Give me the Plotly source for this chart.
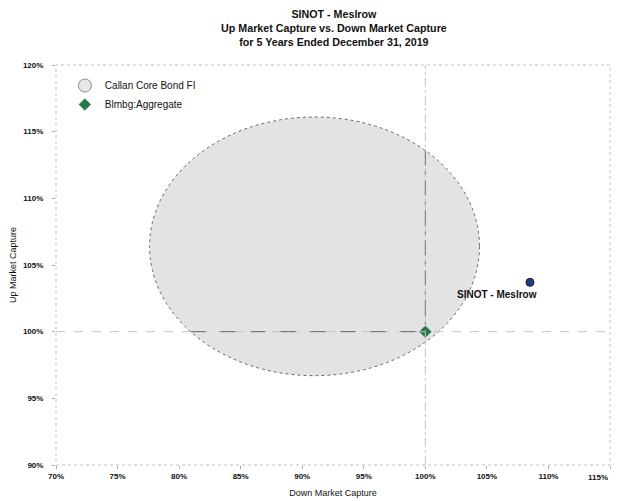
import numpy as np
import plotly.graph_objects as go

# ---- data ----
title_lines = ["SINOT - Meslrow", "Up Market Capture vs. Down Market Capture",
               "for 5 Years Ended December 31, 2019"]
x_ticks = [70, 75, 80, 85, 90, 95, 100, 105, 110, 115]
x_tick_labels = ["70%", "75%", "80%", "85%", "90%", "95%", "100%", "105%", "110%", "115%"]
y_ticks = [90, 95, 100, 105, 110, 115, 120]
y_tick_labels = ["90%", "95%", "100%", "105%", "110%", "115%", "120%"]

group_name = "Callan Core Bond FI"
group_center = [91.0, 106.4]      # down capture, up capture
group_radius = [13.4, 9.7]        # half-width, half-height

bench_name = "Blmbg:Aggregate"
bench_down = [100.0]
bench_up = [100.0]

fund_name = "SINOT - Meslrow"
fund_down = [108.5]
fund_up = [103.7]

ref_level = 100

FONT = "Arial, Liberation Sans, sans-serif"
TICKFONT = dict(family=FONT, size=8, color="#111", weight="bold")

fig = go.Figure()

cx, cy = group_center
rx, ry = group_radius

# group ellipse
fig.add_shape(type="circle", xref="x", yref="y",
              x0=cx - rx, x1=cx + rx, y0=cy - ry, y1=cy + ry,
              fillcolor="#e3e3e3", line=dict(color="#666666", width=1, dash="dot"),
              layer="below")

# light reference lines at 100% across the whole plot
fig.add_shape(type="line", xref="paper", yref="y", x0=0, x1=1, y0=ref_level, y1=ref_level,
              line=dict(color="#c4c4c4", width=1, dash="dash"))
fig.add_shape(type="line", xref="x", yref="paper", x0=ref_level, x1=ref_level, y0=0, y1=1,
              line=dict(color="#c4c4c4", width=1, dash="dashdot"))

# darker parts of the reference lines inside the group ellipse
x_left = cx - rx * np.sqrt(max(0.0, 1 - ((ref_level - cy) / ry) ** 2))
y_top = cy + ry * np.sqrt(max(0.0, 1 - ((ref_level - cx) / rx) ** 2))
fig.add_shape(type="line", xref="x", yref="y", x0=x_left, x1=bench_down[0],
              y0=ref_level, y1=ref_level,
              line=dict(color="#666666", width=1, dash="longdash"))
fig.add_shape(type="line", xref="x", yref="y", x0=ref_level, x1=ref_level,
              y0=y_top, y1=bench_up[0],
              line=dict(color="#777777", width=1, dash="longdashdot"))

# plot border, dotted
fig.add_shape(type="rect", xref="paper", yref="paper", x0=0, x1=1, y0=0, y1=1,
              line=dict(color="#c0c0c0", width=1, dash="dot"))

# legend entry for ellipse
fig.add_trace(go.Scatter(x=[None], y=[None], mode="markers", name=group_name,
                         marker=dict(symbol="circle", size=13, color="#e8e8e8",
                                     line=dict(color="#8a8a8a", width=1))))

fig.add_trace(go.Scatter(x=bench_down, y=bench_up, mode="markers", name=bench_name,
                         marker=dict(symbol="diamond", size=9, color="#237a4b",
                                     line=dict(color="#1d5e3a", width=0.5))))

fig.add_trace(go.Scatter(x=fund_down, y=fund_up, mode="markers", name=fund_name,
                         showlegend=False,
                         marker=dict(symbol="circle", size=8, color="#1f3f7a",
                                     line=dict(color="#0d1a33", width=1))))

fig.add_annotation(x=fund_down[0], y=fund_up[0], text="<b>" + fund_name + "</b>",
                   showarrow=False, xanchor="center", yanchor="top",
                   xshift=-33, yshift=-5, font=dict(family=FONT, size=10, color="#111"))

# last x tick label is drawn right-aligned at its tick so it stays inside the page
x_text = list(x_tick_labels[:-1]) + [""]
fig.add_annotation(x=x_ticks[-1], xref="x", y=0, yref="paper",
                   text=x_tick_labels[-1], showarrow=False,
                   xanchor="right", yanchor="top", yshift=-6,
                   font=TICKFONT)

fig.update_layout(
    width=622, height=501,
    margin=dict(l=48, r=20, t=57, b=44),
    paper_bgcolor="white", plot_bgcolor="white",
    title=dict(text="<br>".join("<b>" + t + "</b>" for t in title_lines),
               x=0.524, xanchor="center", y=0.98, yanchor="top",
               font=dict(family=FONT, size=10.7, color="#111")),
    font=dict(family=FONT, size=9, color="#111"),
    legend=dict(x=0.016, y=0.985, xanchor="left", yanchor="top",
                bgcolor="rgba(0,0,0,0)", font=dict(family=FONT, size=10, color="#111"),
                itemsizing="trace", tracegroupgap=0),
    showlegend=True,
)

fig.update_xaxes(range=[70, 115], tickvals=x_ticks, ticktext=x_text,
                 showgrid=False, zeroline=False, showline=False, automargin=False,
                 ticks="outside", ticklen=3, tickcolor="#aaaaaa",
                 tickfont=TICKFONT,
                 title=dict(text="Down Market Capture", standoff=10,
                            font=dict(family=FONT, size=9, color="#111")))
fig.update_yaxes(range=[90, 120], tickvals=y_ticks, ticktext=y_tick_labels,
                 showgrid=False, zeroline=False, showline=False, automargin=False,
                 ticks="outside", ticklen=3, tickcolor="#aaaaaa", ticklabelstandoff=7,
                 tickfont=TICKFONT,
                 title=dict(text="Up Market Capture", standoff=5,
                            font=dict(family=FONT, size=9, color="#111")))

fig.write_html("out.html")
